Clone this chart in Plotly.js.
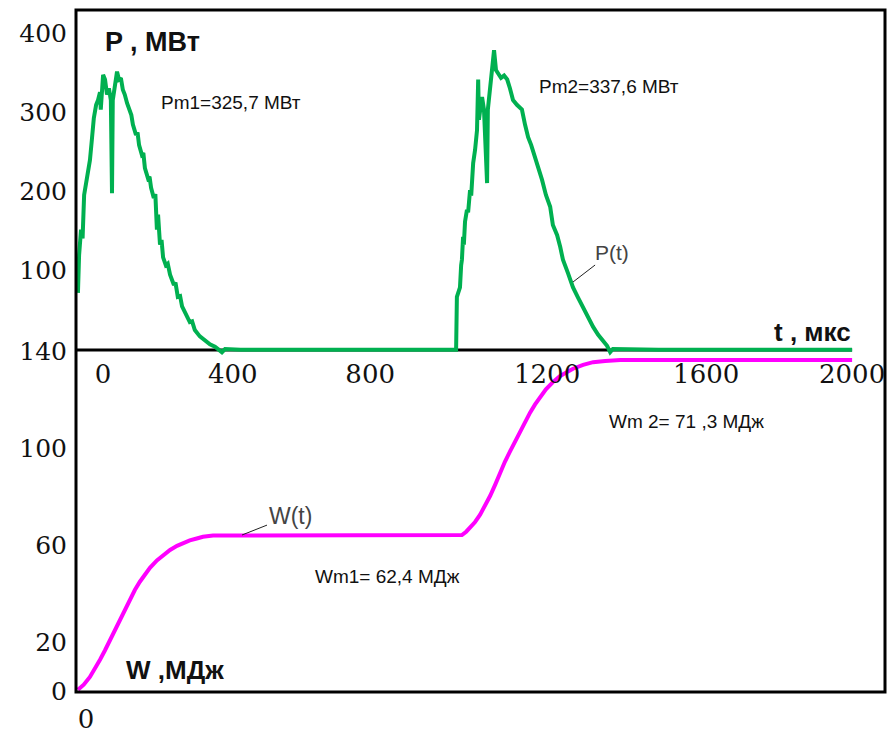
<!DOCTYPE html>
<html>
<head>
<meta charset="utf-8">
<script src="https://cdn.plot.ly/plotly-3.0.1.min.js"></script>
<style>html,body{margin:0;padding:0;background:#fff;}#chart{width:887px;height:733px;}</style>
</head>
<body>
<div id="chart"></div>
<script>
// ---- Data ----
// P(t), MW  (time in microseconds)
const tP = [0,3,8,12,16,21,26,31,36,41,47,52,57,59,65,70,75,80,85,88,90,96,101,106,111,116,121,127,134,138,142,150,154,158,165,169,173,181,185,189,196,200,204,207,212,216,220,227,232,238,248,252,258,264,269,279,289,295,302,315,328,341,354,367,372,380,420,500,600,700,800,900,977,
  979,984,987,990,992,995,997,1000,1005,1008,1013,1016,1021,1026,1031,1034,1036,1041,1044,1049,1057,1059,1065,1070,1075,1080,1085,1093,1101,1109,1116,1124,1134,1147,1155,1163,1171,1181,1189,1199,1209,1220,1227,1238,1246,1253,1266,1279,1292,1305,1318,1331,1344,1357,1367,1375,1382,1500,1600,1700,1800,1900,2000];
const valP = [71,119,151,140,195,208,227,239,265,292,309,315,325,303,347,341,322,330,315,197,315,334,351,341,343,328,322,311,300,296,284,271,274,258,246,248,229,216,218,204,191,196,151,170,132,138,116,106,108,94,81,84,66,67,54,43,34,35,24,16,11,6,3,-1,-4,0,-1,-1,-1,-1,-1,-1,-1,
  66,75,78,106,113,142,132,161,176,173,201,194,235,252,277,341,290,309,319,303,210,303,332,347,378,353,349,343,346,341,330,315,309,303,284,268,258,243,229,214,195,180,157,144,129,113,96,78,65,53,39,28,18,11,4,-4,0,-1,-1,-1,-1,-1,-1];

// W(t), MJ
const tW = [0,15,31,44,57,70,83,96,109,121,134,147,160,173,186,204,220,238,256,274,289,307,323,349,500,700,900,987,
  992,1003,1013,1026,1039,1052,1065,1078,1090,1103,1116,1129,1142,1155,1168,1181,1194,1209,1227,1245,1264,1279,1305,1331,1362,1401,1600,1800,2000];
const valW = [0.5,2.6,5.8,9.2,12.9,16.8,20.9,25.3,29.7,33.8,37.9,41.6,45.0,48.0,50.7,53.8,55.8,58.1,59.8,61.1,62.0,62.8,63.5,64.0,64.0,64.0,64.0,64.0,
  64.2,65.6,67.2,69.6,72.6,76.3,80.4,85.0,89.8,94.4,98.6,102.7,106.8,110.8,114.6,118.0,121.2,124.2,127.2,129.6,131.4,132.7,134.3,135.4,135.9,136.3,136.3,136.3,136.3];

// Tick labels
const xTickPos  = [65, 400, 755, 1212, 1623, 2000];
const xTickText = ['0','400','800','1200','1600','2000'];
const pTickVals = [100, 200, 300, 400];
const pTickText = ['100','200','300','400'];
const wTickVals = [0, 20, 60, 100, 140];
const wTickText = ['0','20','60','100','140'];
const x2TickPos = [21];
const x2TickText = ['0'];

// ---- Layout helpers (pixel -> paper) ----
const L = 76, R = 885, T = 10, B = 692;
const px = x => (x - L) / (R - L);
const py = y => (B - y) / (B - T);

function ann(text, x, y, size, bold, color) {
  return {
    text: bold ? '<b>' + text + '</b>' : text,
    xref: 'paper', yref: 'paper', x: px(x), y: py(y),
    xanchor: 'center', yanchor: 'middle', showarrow: false,
    font: { family: 'Liberation Sans, Arial, sans-serif', size: size, color: color || '#111' }
  };
}
function annArrow(text, hx, hy, tx, ty, size, color) {
  return {
    text: text, xref: 'paper', yref: 'paper', x: px(hx), y: py(hy),
    ax: tx - hx, ay: ty - hy, showarrow: true, arrowhead: 0, arrowwidth: 1, arrowcolor: '#222',
    font: { family: 'Liberation Sans, Arial, sans-serif', size: size, color: color || '#444' }
  };
}

const serif = { family: 'DejaVu Serif, serif', size: 25, color: '#111' };

const traces = [
  { x: tP, y: valP, xaxis: 'x', yaxis: 'y', type: 'scatter', mode: 'lines',
    line: { color: '#00B050', width: 4 }, hoverinfo: 'skip' },
  { x: tW, y: valW, xaxis: 'x2', yaxis: 'y2', type: 'scatter', mode: 'lines',
    line: { color: '#FF00FF', width: 4 }, hoverinfo: 'skip' }
];

const layout = {
  width: 887, height: 733,
  margin: { l: L, r: 887 - R, t: T, b: 733 - B, pad: 0 },
  paper_bgcolor: '#fff', plot_bgcolor: '#fff',
  showlegend: false,
  xaxis: {
    range: [-5, 2085], anchor: 'free', position: py(350),
    showgrid: false, zeroline: false, showline: false, ticks: '',
    tickmode: 'array', tickvals: xTickPos, ticktext: xTickText,
    tickfont: Object.assign({}, serif, { size: 26 }), ticklabelstandoff: 6
  },
  xaxis2: {
    range: [-5, 2085], overlaying: 'x', anchor: 'y2', side: 'bottom',
    showgrid: false, zeroline: false, showline: false, ticks: '',
    tickmode: 'array', tickvals: x2TickPos, ticktext: x2TickText,
    tickfont: Object.assign({}, serif, { size: 26 }), ticklabelstandoff: 9
  },
  yaxis: {
    range: [-434, 429], domain: [0, 1], anchor: 'x',
    showgrid: false, zeroline: false, showline: false, ticks: '',
    tickmode: 'array', tickvals: pTickVals, ticktext: pTickText,
    tickfont: serif, ticklabelstandoff: 8
  },
  yaxis2: {
    range: [-0.4, 280.4], overlaying: 'y', anchor: 'x2', side: 'left',
    showgrid: false, zeroline: false, showline: false, ticks: '',
    tickmode: 'array', tickvals: wTickVals, ticktext: wTickText,
    tickfont: serif, ticklabelstandoff: 8
  },
  shapes: [
    { type: 'rect', xref: 'paper', yref: 'paper', x0: 0, x1: 1, y0: 0, y1: 1,
      line: { color: '#000', width: 3 }, layer: 'above' },
    { type: 'line', xref: 'x', yref: 'paper', x0: -5, x1: 2000, y0: py(350), y1: py(350),
      line: { color: '#000', width: 3 }, layer: 'below' }
  ],
  annotations: [
    ann('P , МВт', 152, 42, 27, true),
    ann('Pm1=325,7 МВт', 231, 102, 19, false),
    ann('Pm2=337,6 МВт', 609, 86, 19, false),
    ann('t , мкс', 812, 332, 26, true),
    ann('W ,МДж', 175, 670, 26, true),
    ann('Wm1= 62,4 МДж', 387, 576, 19, false),
    ann('Wm 2= 71 ,3 МДж', 686, 421, 19, false),
    annArrow('P(t)', 573, 282, 612, 252, 21),
    annArrow('W(t)', 242, 535, 290, 516, 23)
  ]
};

Plotly.newPlot('chart', traces, layout, { staticPlot: true, displayModeBar: false });
</script>
</body>
</html>
